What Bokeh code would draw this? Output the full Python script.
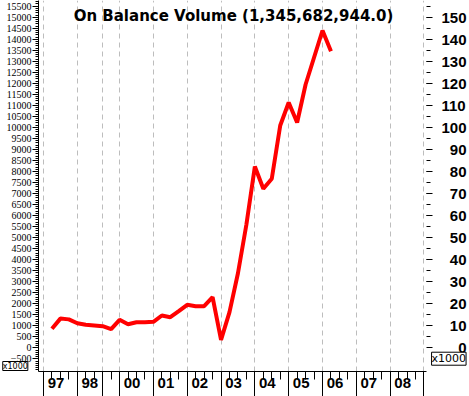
from bokeh.plotting import figure
from bokeh.models import Range1d, LinearAxis, FixedTicker, Label, Grid
from bokeh.core.properties import value
from bokeh.embed import file_html
from bokeh.resources import INLINE

# ---- data ----
quarter_index = list(range(1, 35))
obv_values = [862, 1325, 1290, 1116, 1043, 1012, 980, 844, 1270, 1071,
              1162, 1162, 1180, 1466, 1388, 1661, 1951, 1888, 1888, 2296,
              363, 1617, 3384, 5595, 8226, 7214, 7668, 10087, 11130, 10222,
              11947, 13172, 14397, 13457]
year_starts = [0, 4, 7, 9, 13, 17, 21, 25, 29, 33, 37, 41, 45]
year_labels = ["97", "98", "", "00", "01", "02", "03", "04", "05", "06", "07", "08", ""]
left_ticks = list(range(-500, 15501, 500))
left_minor = list(range(-1000, 15701, 100))
right_ticks = list(range(0, 151, 10))
right_minor = list(range(5, 156, 5))
title_text = "On Balance Volume (1,345,682,944.0)"
scale_text = "x1000"

NB = "\u00a0"

p = figure(width=469, height=396, output_backend="svg", toolbar_location=None,
           x_range=Range1d(-0.59, 45.3), y_range=Range1d(-1075, 15758),
           x_axis_location=None, y_axis_location=None, title_location=None,
           min_border_left=38, min_border_right=41, min_border_top=0, min_border_bottom=25)
p.outline_line_color = None
p.background_fill_color = "white"
p.border_fill_color = "white"
p.grid.visible = False
p.extra_y_ranges = {"r": Range1d(-10.75, 157.58)}

# vertical dashed grid at year boundaries
p.add_layout(Grid(dimension=0, ticker=FixedTicker(ticks=year_starts),
                  grid_line_color="#bdbdbd", grid_line_dash="5 4", grid_line_width=1))

# bottom axis
xaxis = LinearAxis(
    ticker=FixedTicker(ticks=year_starts, minor_ticks=list(range(0, 46))),
    major_label_overrides={s: (NB * 6 + l) if l else "" for s, l in zip(year_starts, year_labels)},
    major_tick_out=25, major_tick_in=0, minor_tick_out=8, minor_tick_in=0,
    major_label_standoff=-23,
    major_label_text_font="Liberation Sans", major_label_text_font_style="bold",
    major_label_text_font_size="15px", major_label_text_color="black",
    axis_line_color="black", major_tick_line_color="black", minor_tick_line_color="black")
p.add_layout(xaxis, "below")

# left axis
yaxis = LinearAxis(
    ticker=FixedTicker(ticks=left_ticks, minor_ticks=left_minor),
    major_tick_out=6, major_tick_in=0, minor_tick_out=3, minor_tick_in=0,
    major_label_standoff=1,
    major_label_text_font="Liberation Sans Narrow", major_label_text_font_size="10px",
    major_label_text_color="black",
    axis_line_color="black", major_tick_line_color="black", minor_tick_line_color="black")
p.add_layout(yaxis, "left")

# right axis
raxis = LinearAxis(
    y_range_name="r",
    ticker=FixedTicker(ticks=right_ticks, minor_ticks=right_minor),
    major_label_overrides={v: NB * (2 * (3 - len(str(v)))) + str(v) for v in right_ticks},
    major_tick_out=6, major_tick_in=0, minor_tick_out=4, minor_tick_in=0,
    major_label_standoff=9,
    major_label_text_font="Liberation Sans", major_label_text_font_style="bold",
    major_label_text_font_size="15px", major_label_text_color="black",
    axis_line_color=None, major_tick_line_color="black", minor_tick_line_color="black")
p.add_layout(raxis, "right")

# OBV line
p.line(quarter_index, obv_values, line_color="#ff0000", line_width=4)

# title inside plot area
p.add_layout(Label(x=195, y=365, x_units="screen", y_units="screen", text=title_text,
                   text_align="center", text_baseline="top",
                   text_font="DejaVu Sans", text_font_style="bold",
                   text_font_size="15px", text_color="black"))

# scale boxes (overlay level, outside the frame)
p.text(x=[45.9], y=[-790], text=[scale_text], level="overlay",
       text_align="left", text_baseline="bottom",
       text_font=value("DejaVu Sans"), text_font_size="11px", text_color="black",
       border_line_color="black", background_fill_color="white", padding=0)
p.text(x=[-4.82], y=[-1030], text=[scale_text], level="overlay",
       text_align="left", text_baseline="bottom",
       text_font=value("DejaVu Sans"), text_font_size="8px", text_color="black",
       border_line_color="black", background_fill_color="white", padding=0)

open("out.html", "w").write(file_html(p, INLINE))
